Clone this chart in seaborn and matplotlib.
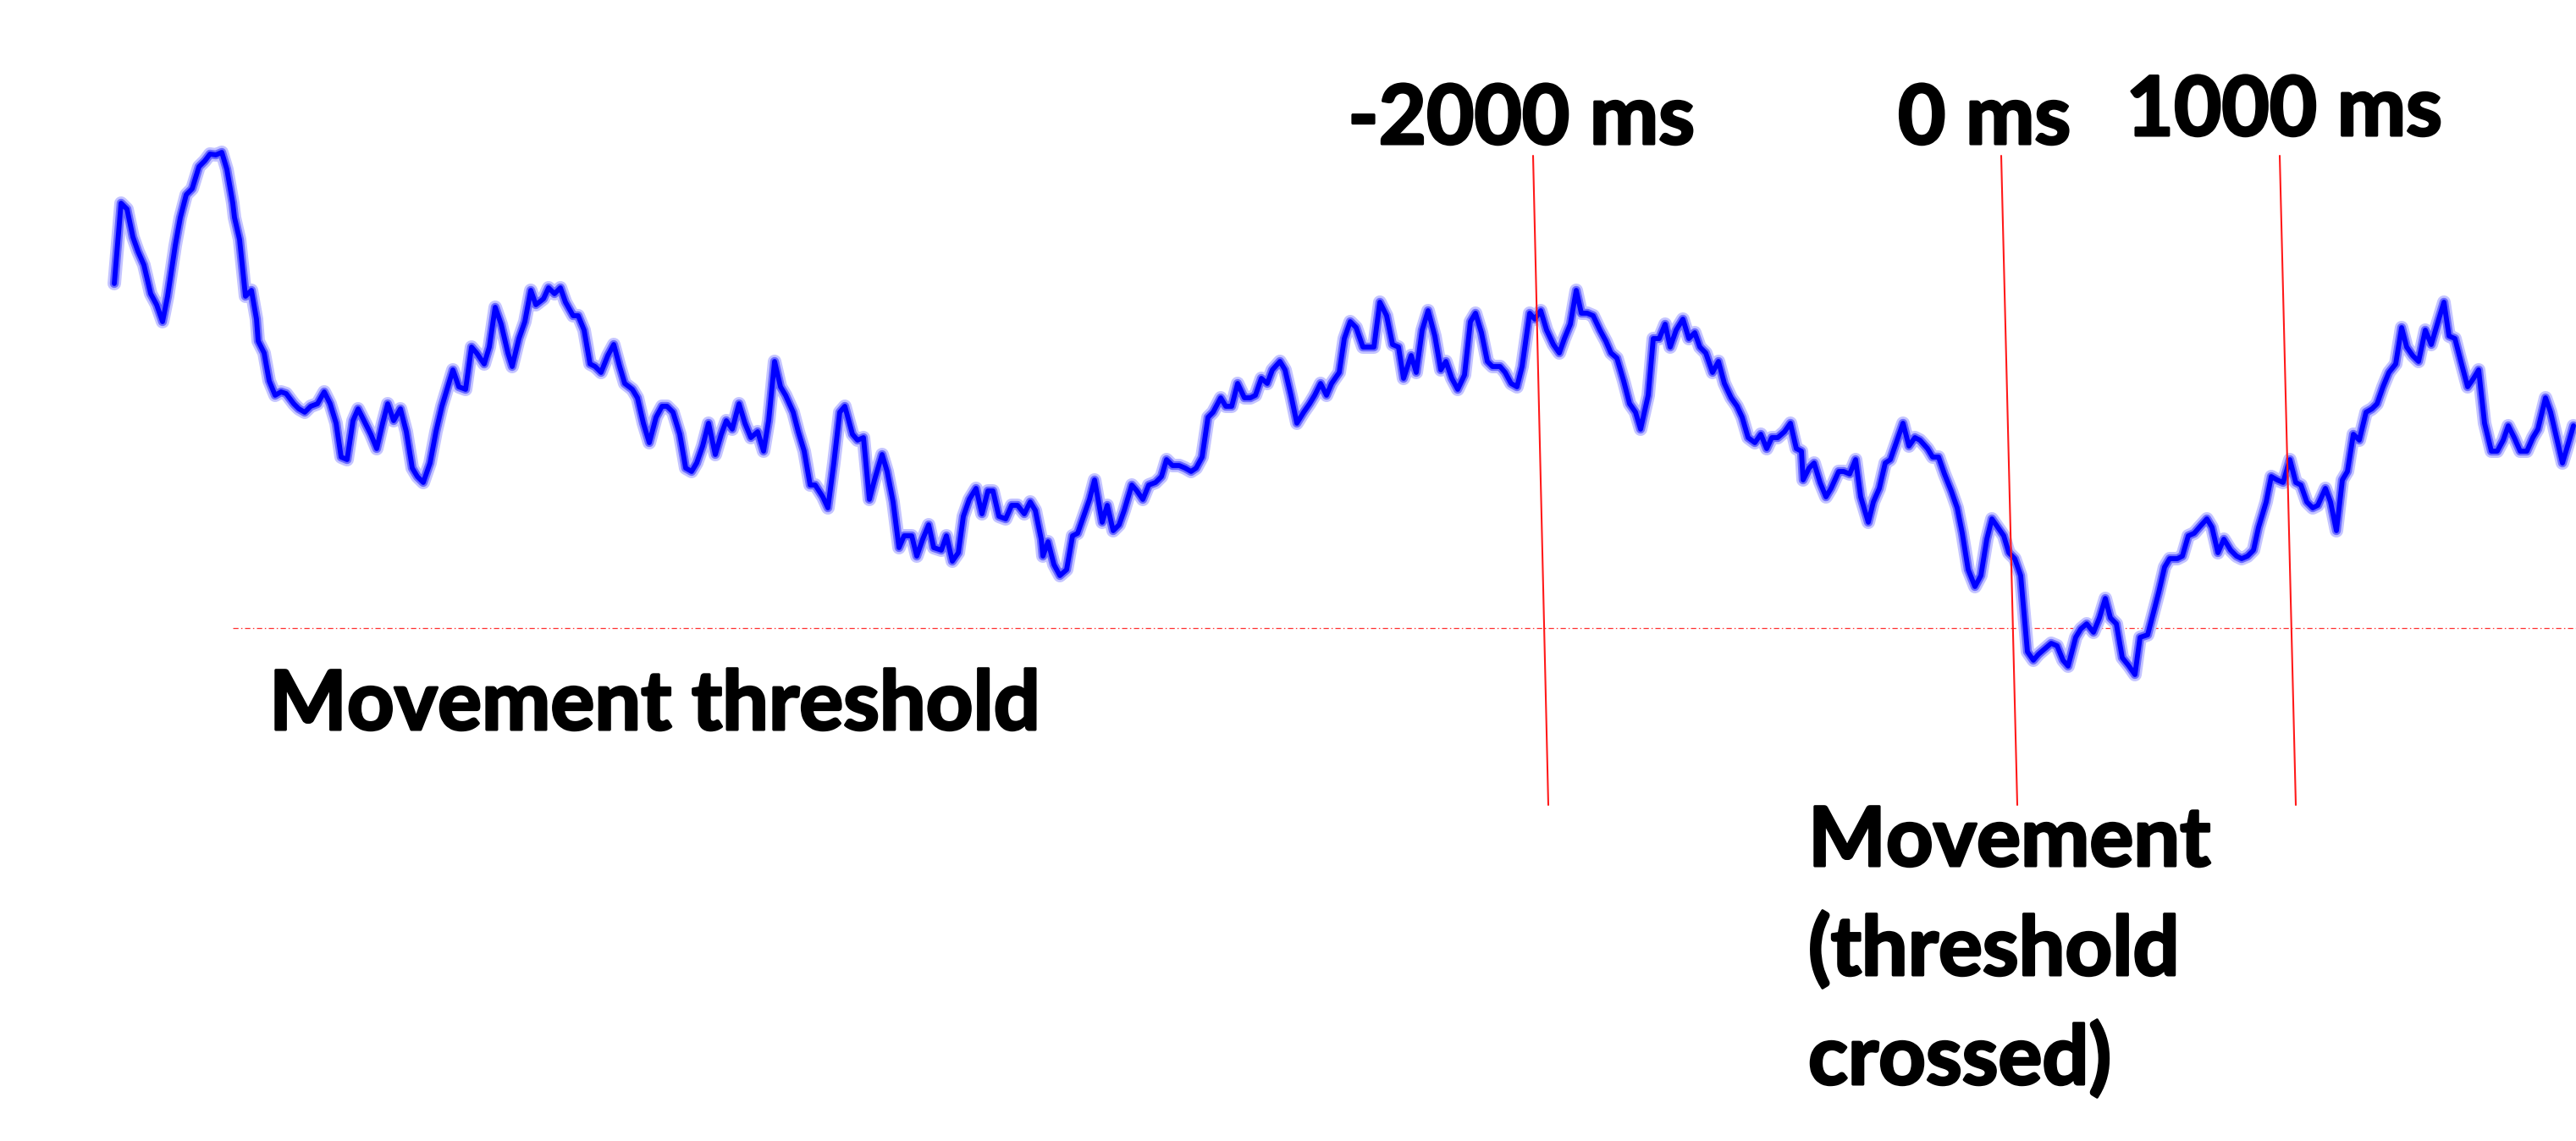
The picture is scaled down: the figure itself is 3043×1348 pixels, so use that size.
import matplotlib
matplotlib.use("Agg")
import matplotlib.pyplot as plt
import matplotlib.patheffects as pe
import seaborn as sns
import pandas as pd

# Trace position (horizontal sample position) and amplitude relative to the threshold
t = [
    135, 143, 150, 157, 163, 170, 178, 185, 192, 198, 207, 213, 220, 227, 235, 242, 248, 255, 262, 268,
    275, 277, 283, 290, 297, 303, 305, 312, 318, 325, 332, 338, 347, 353, 360, 367, 375, 383, 390, 397,
    403, 410, 417, 423, 430, 438, 445, 452, 458, 465, 473, 480, 487, 493, 500, 508, 515, 522, 528, 535,
    542, 550, 557, 563, 572, 578, 585, 592, 600,
    605, 613, 620, 627, 633, 642, 648, 655, 662, 668, 677, 683, 690, 697, 703, 710, 718, 725, 732, 738,
    747, 753, 760, 767, 775, 782, 788, 795, 803, 810, 817, 823, 830, 837, 845, 852, 858, 865, 873, 880,
    887, 895, 902, 908, 915, 922, 928, 937, 943, 950, 957, 963, 972, 978, 985, 992, 998, 1007, 1013, 1020,
    1027, 1033, 1042, 1048, 1055, 1062, 1068, 1077, 1083, 1090, 1097,
    1103, 1112, 1118, 1125, 1132, 1138, 1145, 1153, 1160, 1167, 1173, 1180, 1188, 1195, 1202, 1210, 1217, 1223, 1230, 1232,
    1238, 1245, 1252, 1260, 1267, 1273, 1280, 1287, 1293, 1302, 1308, 1315, 1322, 1328, 1337, 1343, 1350, 1357, 1365, 1372,
    1378, 1385, 1393, 1400, 1407, 1413, 1420, 1427, 1433, 1442, 1448, 1455, 1462, 1470, 1477, 1483, 1490, 1497, 1503, 1512,
    1518, 1525, 1532, 1540, 1547, 1553, 1560, 1567, 1573,
    1582, 1588, 1595, 1602, 1610, 1617, 1623, 1630, 1638, 1645, 1652, 1658, 1667, 1673, 1680, 1687, 1695, 1702, 1708, 1715,
    1722, 1730, 1737, 1743, 1750, 1757, 1763, 1772, 1778, 1785, 1792, 1798, 1807, 1813, 1820, 1827, 1835, 1842, 1848, 1855,
    1862, 1868, 1875, 1882, 1890, 1897, 1903, 1910, 1918, 1925, 1932, 1938, 1947, 1953, 1960, 1967, 1973, 1980, 1988, 1995,
    2002, 2008, 2015, 2023, 2030, 2037,
    2045, 2052, 2058, 2065, 2073, 2080, 2087, 2093, 2100, 2108, 2115, 2122, 2128, 2130, 2137, 2143, 2150, 2157, 2163, 2172,
    2178, 2185, 2192, 2198, 2207, 2213, 2220, 2227, 2233, 2242, 2248, 2255, 2262, 2268, 2277, 2283, 2290, 2297, 2305, 2312,
    2318, 2325, 2333, 2340, 2347, 2353, 2360, 2367, 2373, 2380, 2387, 2395, 2402, 2408, 2415, 2423, 2430, 2437, 2443, 2452,
    2458, 2465, 2473, 2480, 2487, 2493, 2500, 2507, 2515, 2522, 2528, 2537,
    2550, 2557, 2563, 2572, 2578, 2585, 2592, 2598, 2607, 2613, 2620, 2627, 2635, 2642, 2648, 2655, 2662, 2668, 2677, 2683,
    2690, 2697, 2705, 2712, 2718, 2725, 2732, 2738, 2747, 2753, 2760, 2767, 2773, 2780, 2787, 2795, 2802, 2808, 2815, 2822,
    2830, 2837, 2843, 2850, 2857, 2865, 2872, 2880, 2887, 2893, 2900, 2907, 2915, 2922, 2928, 2935, 2943, 2950, 2957, 2963,
    2970, 2977, 2985, 2992, 2998, 3007, 3013, 3020, 3027, 3033, 3040,
]

amplitude = [
    407, 502, 495, 462, 445, 429, 395, 382, 362, 392, 452, 485, 512, 519, 545, 552, 560, 559, 562, 542,
    502, 485, 459, 392, 399, 365, 339, 325, 292, 275, 279, 277, 265, 259, 255, 262, 265, 279, 265, 242,
    202, 199, 245, 259, 245, 229, 212, 242, 265, 245, 259, 232, 189, 179, 172, 195, 232, 262, 282, 305,
    285, 282, 332, 325, 312, 332, 379, 359, 325,
    309, 342, 362, 399, 382, 389, 402, 395, 402, 385, 369, 369, 352, 312, 309, 302, 322, 335, 309, 289,
    282, 272, 242, 219, 249, 262, 262, 255, 229, 189, 185, 195, 215, 242, 205, 229, 245, 235, 265, 242,
    225, 232, 209, 245, 315, 285, 275, 255, 232, 209, 169, 169, 155, 142, 195, 255, 262, 229, 222, 225,
    152, 175, 205, 185, 149, 95, 109, 109, 85, 105, 122,
    95, 92, 109, 79, 89, 132, 152, 165, 135, 162, 162, 132, 129, 145, 145, 135, 149, 139, 105, 85,
    102, 75, 62, 69, 109, 112, 132, 152, 175, 125, 145, 115, 122, 139, 169, 162, 152, 169, 172, 179,
    199, 192, 192, 189, 185, 189, 202, 249, 255, 272, 262, 262, 289, 272, 272, 275, 295, 289, 305, 315,
    305, 275, 242, 255, 265, 275, 289, 275, 289,
    302, 342, 362, 355, 332, 332, 332, 385, 369, 335, 332, 295, 322, 302, 352, 375, 345, 305, 315, 295,
    282, 299, 362, 372, 349, 315, 309, 309, 302, 289, 285, 309, 372, 365, 375, 352, 335, 325, 342, 359,
    399, 372, 372, 369, 352, 339, 325, 319, 292, 265, 255, 235, 275, 342, 342, 359, 332, 352, 365, 342,
    349, 332, 325, 302, 315, 289,
    272, 262, 249, 225, 219, 229, 212, 225, 225, 232, 242, 212, 209, 175, 189, 195, 172, 155, 165, 185,
    185, 182, 199, 155, 125, 149, 165, 195, 199, 225, 242, 215, 225, 222, 212, 202, 202, 182, 162, 142,
    112, 69, 49, 62, 105, 129, 119, 109, 89, 82, 62, -28, -38, -31, -25, -18, -21, -38, -45, -11,
    -1, 5, -5, 12, 35, 12, 5, -35, -45, -55, -11, -8,
    42, 72, 82, 82, 85, 109, 112, 119, 129, 119, 89, 105, 92, 85, 82, 85, 92, 119, 149, 179,
    175, 172, 199, 172, 169, 149, 142, 145, 165, 149, 115, 175, 185, 229, 222, 255, 259, 265, 285, 302,
    312, 355, 332, 322, 315, 352, 335, 362, 385, 345, 342, 315, 285, 295, 305, 242, 209, 209, 222, 239,
    225, 209, 209, 225, 235, 272, 255, 225, 195, 215, 239,
]

# Movement threshold level and where its guide starts
threshold_level = 0
threshold_start = 275

# Event markers (slanted guides) and their labels
event_labels = ["-2000 ms", "0 ms", "1000 ms"]
event_top_x = [1811, 2364, 2693]
event_bottom_x = [1829, 2383, 2712]
event_top = 558
event_bottom = -209

trace = pd.DataFrame({"t": t, "amplitude": amplitude})

sns.set_theme(style="white")
plt.rcParams["font.family"] = ["Lato", "DejaVu Sans"]

W, H = 3043, 1348
fig = plt.figure(figsize=(W / 100, H / 100), dpi=100)
ax = fig.add_axes([0, 0, 1, 1])
ax.set_xlim(0, W)
ax.set_ylim(742 - H, 742)
ax.axis("off")

# Threshold guide
ax.plot([threshold_start, W], [threshold_level, threshold_level],
        color="#ff3030", lw=0.9, linestyle=(0, (5, 2.5, 1.2, 2.5)), zorder=1)

# Trace: soft halo, mid tone and solid core
sns.lineplot(data=trace, x="t", y="amplitude", ax=ax, color="#c4c4ff",
             linewidth=11.5, sort=False, zorder=2)
sns.lineplot(data=trace, x="t", y="amplitude", ax=ax, color="#6a6aff",
             linewidth=7.5, sort=False, zorder=3)
sns.lineplot(data=trace, x="t", y="amplitude", ax=ax, color="#0000ff",
             linewidth=4.2, sort=False, zorder=4)

# Slanted event guides
for xt, xb in zip(event_top_x, event_bottom_x):
    ax.plot([xt, xb], [event_top, event_bottom], color="#ff1a1a", lw=1.5, zorder=5)

def fx(px):
    return px / W

def fy(py):
    return 1 - py / H

heavy = [pe.withStroke(linewidth=2.2, foreground="black")]
label_style = dict(fontsize=70, fontweight="bold", color="black", path_effects=heavy)
label_centers = [1797, 2344, 2698]
label_baselines = [170, 170, 160]
for lab, cx, by in zip(event_labels, label_centers, label_baselines):
    fig.text(fx(cx), fy(by), lab, ha="center", va="baseline", **label_style)

fig.text(fx(318), fy(862), "Movement threshold", ha="left", va="baseline", **label_style)
for i, line in enumerate(["Movement", "(threshold", "crossed)"]):
    fig.text(fx(2136), fy(1023 + 129 * i), line, ha="left", va="baseline", **label_style)

fig.savefig("out.png", dpi=100, facecolor="white")
